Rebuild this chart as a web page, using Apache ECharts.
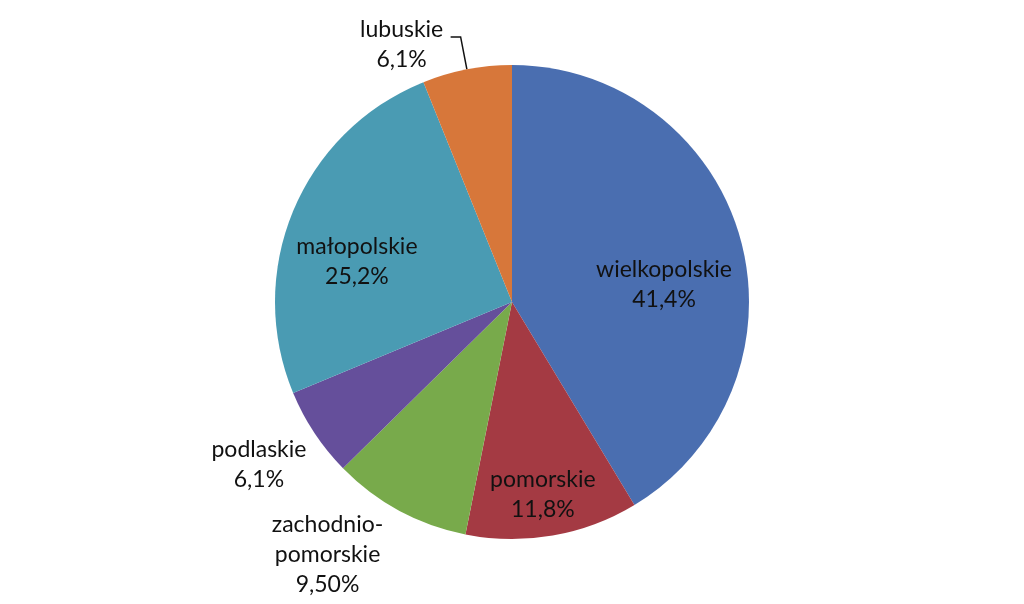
<!DOCTYPE html>
<html lang="pl">
<head>
  <meta charset="UTF-8">
  <title>pie</title>
  <style>
    html, body { margin: 0; padding: 0; background: #fff; }
    #chart { width: 1024px; height: 604px; }
  </style>
</head>
<body>
<div id="chart"></div>
<script src="https://cdn.jsdelivr.net/npm/echarts@6/dist/echarts.min.js"></script>
<script>
  // dane
  const regions = ['wielkopolskie', 'pomorskie', 'zachodnio-\npomorskie', 'podlaskie', 'małopolskie', 'lubuskie'];
  const shares = [41.4, 11.8, 9.5, 6.1, 25.2, 6.1];
  const shareLabels = ['41,4%', '11,8%', '9,50%', '6,1%', '25,2%', '6,1%'];
  const colors = ['#4a6eb0', '#a43a43', '#78aa4b', '#654f9b', '#4a9bb3', '#d7773a'];
  const insideLabel = [true, true, false, false, true, false];
  // przesunięcia etykiet (jak w Excelu)
  const labelShift = [[35, 15], [10, 73], [-41, 15], [-13, 13], [-43, 7], [-44, 8]];

  const chart = echarts.init(document.getElementById('chart'));

  const data = regions.map((name, i) => ({
    name: name,
    value: shares[i],
    itemStyle: { color: colors[i] },
    label: {
      position: insideLabel[i] ? 'inside' : 'outside',
      formatter: name + '\n' + shareLabels[i]
    },
    labelLine: { show: i === 5 }
  }));

  chart.setOption({
    animation: false,
    series: [{
      type: 'pie',
      center: [512, 302],
      radius: 237,
      startAngle: 90,
      clockwise: true,
      data: data,
      label: {
        color: '#111',
        fontFamily: 'Lato',
        fontSize: 23,
        lineHeight: 30,
        align: 'center'
      },
      labelLine: {
        lineStyle: { color: '#111', width: 1.5 },
        length: 33,
        length2: 10
      },
      labelLayout: function (p) {
        const s = labelShift[p.dataIndex];
        const out = { dx: s[0], dy: s[1], align: 'center' };
        // linia odniesienia zostaje taka, jak ją policzył ECharts
        if (p.labelLinePoints) out.labelLinePoints = p.labelLinePoints;
        return out;
      }
    }]
  });
</script>
</body>
</html>
